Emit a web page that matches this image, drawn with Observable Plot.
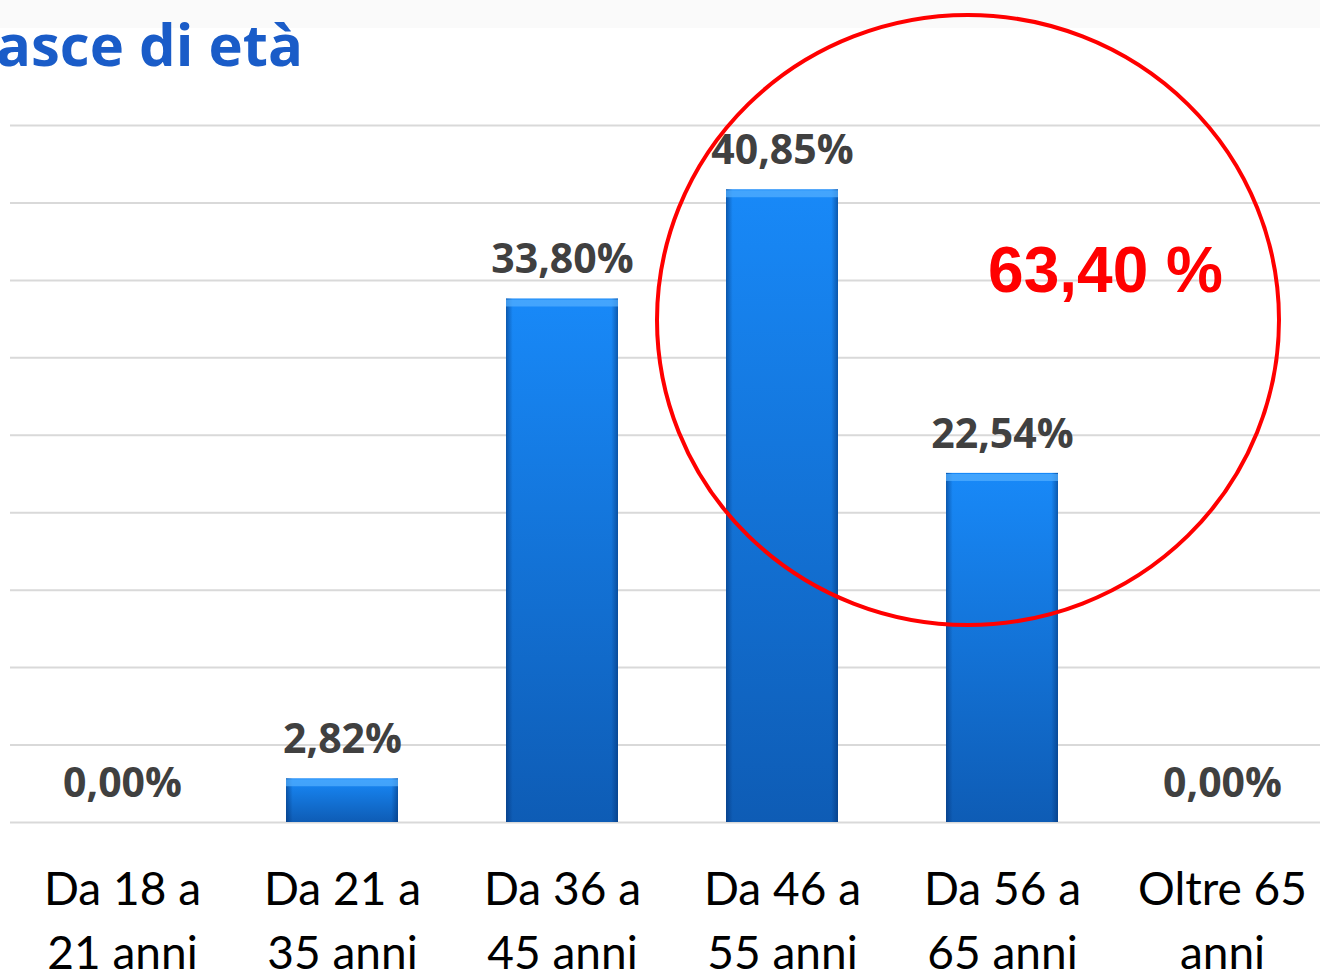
<!DOCTYPE html>
<html><head><meta charset="utf-8">
<script src="https://cdn.jsdelivr.net/npm/d3@7"></script>
<script src="https://cdn.jsdelivr.net/npm/@observablehq/plot@0.6"></script>
<style>
body{margin:0;background:#fff;width:1320px;height:976px;overflow:hidden;position:relative}
#band{position:absolute;left:0;top:0;width:1320px;height:28px;background:#fafafa}
#chart{position:absolute;left:0;top:0}
#title{position:absolute;left:-4px;top:4px;font:700 58px "Open Sans";color:#1a5cc8;white-space:nowrap}
</style></head><body>
<div id="band"></div><div id="chart"></div><div id="title">asce di età</div>
<script>
const categories = ["Da 18 a\n21 anni", "Da 21 a\n35 anni", "Da 36 a\n45 anni", "Da 46 a\n55 anni", "Da 56 a\n65 anni", "Oltre 65\nanni"];
const values = [0, 2.82, 33.80, 40.85, 22.54, 0];
const valueLabels = ["0,00%", "2,82%", "33,80%", "40,85%", "22,54%", "0,00%"];
const gridTicks = [0, 5, 10, 15, 20, 25, 30, 35, 40, 45];
const highlightLabel = "63,40 %";
const highlightValue = 35.6;

const data = categories.map((c, i) => ({cat: c, value: values[i], label: valueLabels[i]}));
const nonZero = data.filter(d => d.value > 0);

const defs = () => {
  const g = d3.create("svg:defs");
  const v = g.append("linearGradient").attr("id", "gradV").attr("x1", 0).attr("x2", 0).attr("y1", 0).attr("y2", 1);
  v.append("stop").attr("offset", 0).attr("stop-color", "#1889f8");
  v.append("stop").attr("offset", 1).attr("stop-color", "#0e5cb5");
  const h = g.append("linearGradient").attr("id", "gradH").attr("x1", 0).attr("x2", 1).attr("y1", 0).attr("y2", 0);
  h.append("stop").attr("offset", 0).attr("stop-color", "#002a66").attr("stop-opacity", 0.5);
  h.append("stop").attr("offset", 0.06).attr("stop-color", "#002a66").attr("stop-opacity", 0);
  h.append("stop").attr("offset", 0.94).attr("stop-color", "#002a66").attr("stop-opacity", 0);
  h.append("stop").attr("offset", 1).attr("stop-color", "#002a66").attr("stop-opacity", 0.5);
  return g.node();
};

const circle = () => {
  const s = d3.create("svg:ellipse")
    .attr("cx", 968).attr("cy", 320).attr("rx", 311).attr("ry", 305)
    .attr("fill", "none").attr("stroke", "#ff0000").attr("stroke-width", 4);
  return s.node();
};

const chart = Plot.plot({
  width: 1320,
  height: 976,
  marginTop: 125,
  marginBottom: 154,
  marginLeft: 10,
  marginRight: 0,
  style: {background: "transparent", overflow: "visible"},
  x: {domain: categories, range: [10, 1333], paddingInner: 0.492, paddingOuter: 0.246, axis: null},
  y: {domain: [0, 45], axis: null},
  marks: [
    defs,
    Plot.ruleY(gridTicks, {stroke: "#d9d9d9", strokeWidth: 2}),
    Plot.barY(data, {x: "cat", y: "value", fill: "url(#gradV)"}),
    Plot.barY(nonZero, {x: "cat", y: "value", fill: "url(#gradH)"}),
    Plot.tickY(nonZero, {x: "cat", y: "value", stroke: "#55b0ff", strokeWidth: 7, dy: 4, strokeOpacity: 0.7}),
    Plot.text(data, {x: "cat", y: "value", text: "label", dy: -39, lineAnchor: "middle", fontSize: 41, fontWeight: 700, fontFamily: "Open Sans", fill: "#404040"}),
    Plot.text(data, {x: "cat", y: () => 0, text: "cat", dy: 36, lineAnchor: "top", fontSize: 46, lineHeight: 1.41, fontFamily: "Lato", fill: "#000"}),
    Plot.text([highlightLabel], {x: () => categories[4], y: () => highlightValue, text: d => d, dx: 103, lineAnchor: "middle", fontSize: 64, fontWeight: 700, fontFamily: "Liberation Sans", fill: "#ff0000"}),
    circle
  ]
});
document.getElementById("chart").append(chart);
</script>
</body></html>
